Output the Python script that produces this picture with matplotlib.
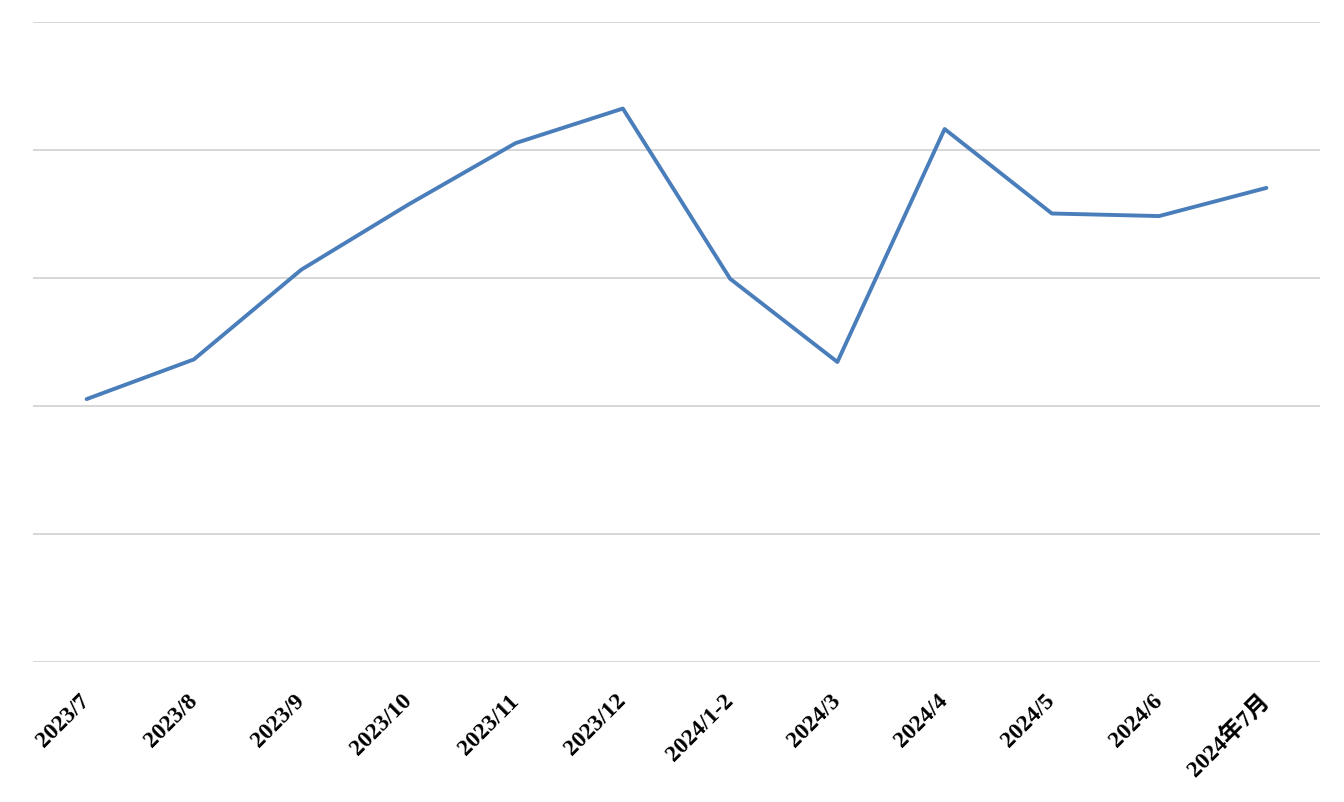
import numpy as np
import matplotlib.pyplot as plt

months = ["2023/7", "2023/8", "2023/9", "2023/10", "2023/11", "2023/12",
          "2024/1-2", "2024/3", "2024/4", "2024/5", "2024/6", "2024年7月"]
values = [2.05, 2.36, 3.06, 3.57, 4.05, 4.32, 2.99, 2.34, 4.16, 3.50, 3.48, 3.70]
grid_levels = [0, 1, 2, 3, 4, 5]


def main():
    fig = plt.figure(figsize=(13.44, 8.03), dpi=100)
    ax = fig.add_axes([33 / 1344, 1 - 662.5 / 803, (1320 - 33) / 1344, (662 - 22) / 803])

    x = np.arange(len(months))
    ax.plot(x, values, color="#4a7ebb", linewidth=2.8, solid_capstyle="round")

    ax.set_xlim(-0.5, len(months) - 0.5)
    ax.set_ylim(grid_levels[0], grid_levels[-1])
    ax.set_yticks(grid_levels)
    ax.yaxis.grid(True, color="#d4d4d4", linewidth=1.3)
    ax.set_axisbelow(True)
    ax.tick_params(axis="y", left=False, labelleft=False)
    ax.tick_params(axis="x", bottom=False, pad=22)
    for s in ax.spines.values():
        s.set_visible(False)

    ax.set_xticks(x)
    ax.set_xticklabels(months, rotation=45, ha="right", va="center",
                       rotation_mode="anchor", fontsize=17, fontweight="bold",
                       family=["Liberation Serif", "Noto Sans CJK SC"])

    plt.savefig("out.png", dpi=100)


if __name__ == "__main__":
    main()
